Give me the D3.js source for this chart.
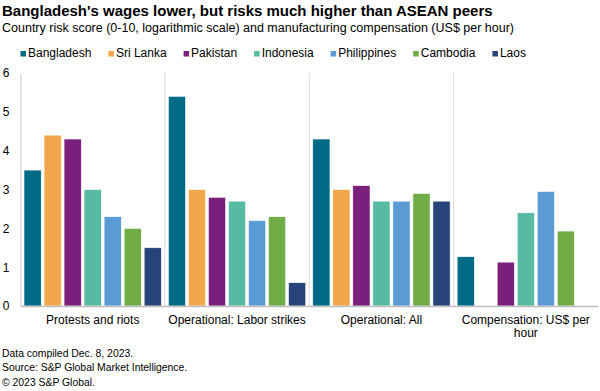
<!DOCTYPE html>
<html>
<head>
<meta charset="utf-8">
<script src="https://cdn.jsdelivr.net/npm/d3@7"></script>
<style>
  body { margin: 0; background: #fff; }
  svg text { font-family: "Liberation Sans", Arial, sans-serif; fill: #000; }
</style>
</head>
<body>
<svg id="chart" width="600" height="391"></svg>
<script>
var categories = ["Protests and riots", "Operational: Labor strikes", "Operational: All", "Compensation: US$ per hour"];
var countries = ["Bangladesh", "Sri Lanka", "Pakistan", "Indonesia", "Philippines", "Cambodia", "Laos"];
var colors = ["#006b87", "#f2a74b", "#7a1f7c", "#56bba2", "#5b9bd5", "#70ad47", "#264478"];

// one value per category, null = no data
var bangladesh = [3.5, 5.4, 4.3, 1.27];
var sriLanka = [4.4, 3.0, 3.0, null];
var pakistan = [4.3, 2.8, 3.1, 1.13];
var indonesia = [3.0, 2.7, 2.7, 2.4];
var philippines = [2.3, 2.2, 2.7, 2.95];
var cambodia = [2.0, 2.3, 2.9, 1.93];
var laos = [1.5, 0.6, 2.7, null];
var series = [bangladesh, sriLanka, pakistan, indonesia, philippines, cambodia, laos];

var yTicks = [0, 1, 2, 3, 4, 5, 6];

var margin = {top: 73, left: 20.5, right: 2, bottom: 85};
var width = 600 - margin.left - margin.right;
var height = 391 - margin.top - margin.bottom;

var svg = d3.select("#chart");

svg.append("text").attr("x", 2).attr("y", 16)
  .style("font-size", "15px").style("font-weight", "bold")
  .text("Bangladesh's wages lower, but risks much higher than ASEAN peers");
svg.append("text").attr("x", 2).attr("y", 32)
  .style("font-size", "12.5px")
  .text("Country risk score (0-10, logarithmic scale) and manufacturing compensation (US$ per hour)");

// legend, laid out one after another
var legend = svg.append("g").attr("transform", "translate(0,57)");
var lx = 20.5;
countries.forEach(function(c, i) {
  var item = legend.append("g").attr("transform", `translate(${lx},0)`);
  item.append("rect").attr("x", 0).attr("y", -6).attr("width", 5.5).attr("height", 5.5)
    .attr("fill", colors[i]);
  var t = item.append("text").attr("x", 7.5).attr("y", 0)
    .style("font-size", "12px").text(c);
  lx += 7.5 + t.node().getComputedTextLength() + 17;
});

var g = svg.append("g").attr("transform", `translate(${margin.left},${margin.top})`);

var x0 = d3.scaleBand().domain(categories).range([0, width]).paddingInner(0).paddingOuter(0);
var x1 = d3.scaleBand().domain(countries).range([3.5, x0.bandwidth() - 3.5]).paddingInner(0.14).paddingOuter(0);
var y = d3.scaleLinear().domain([0, 6]).range([height, 0]);

// separators
g.append("g").selectAll("line")
  .data(categories.slice(1))
  .join("line")
    .attr("x1", d => x0(d)).attr("x2", d => x0(d))
    .attr("y1", 0).attr("y2", height)
    .attr("stroke", "#d9d9d9").attr("stroke-width", 1);

// bars
g.append("g").selectAll("g")
  .data(categories)
  .join("g")
    .attr("transform", d => `translate(${x0(d)},0)`)
  .selectAll("rect")
  .data((d, ci) => countries.map((c, si) => ({c: c, si: si, v: series[si][ci]})).filter(e => e.v != null))
  .join("rect")
    .attr("x", d => x1(d.c))
    .attr("width", x1.bandwidth())
    .attr("y", d => y(d.v))
    .attr("height", d => height - y(d.v))
    .attr("fill", d => colors[d.si])
    .attr("stroke", "#ffffff").attr("stroke-width", 0.6);

// y axis
var yAxis = g.append("g").call(d3.axisLeft(y).tickValues(yTicks).tickFormat(d3.format("d")).tickSize(0).tickPadding(11));
yAxis.select(".domain").attr("stroke", "#d9d9d9").attr("stroke-width", 1.5);
yAxis.selectAll("text").style("font-size", "12px").style("font-family", "Liberation Sans, Arial, sans-serif").attr("fill", "#000");

// x axis
var xAxis = g.append("g").attr("transform", `translate(0,${height})`)
  .call(d3.axisBottom(x0).tickSize(0).tickPadding(9));
xAxis.select(".domain").attr("stroke", "#bfbfbf").attr("stroke-width", 1.5);
xAxis.selectAll("text").style("font-size", "12px").style("font-family", "Liberation Sans, Arial, sans-serif").attr("fill", "#000")
  .each(function(d) {
    if (d === "Compensation: US$ per hour") {
      var t = d3.select(this).text(null);
      t.append("tspan").attr("x", 0).attr("dy", "0.71em").text("Compensation: US$ per");
      t.append("tspan").attr("x", 0).attr("dy", "1.1em").text("hour");
      t.attr("dy", null);
    }
  });

// footer
var notes = ["Data compiled Dec. 8, 2023.", "Source: S&P Global Market Intelligence.", "© 2023 S&P Global."];
svg.append("g").selectAll("text")
  .data(notes)
  .join("text")
    .attr("x", 2).attr("y", (d, i) => 356.5 + i * 14.7)
    .style("font-size", "10.4px")
    .text(d => d);
</script>
</body>
</html>
